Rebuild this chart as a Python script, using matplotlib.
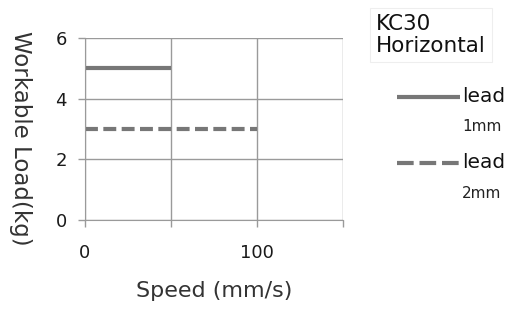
import matplotlib.pyplot as plt
from matplotlib.lines import Line2D

speed_1mm = [0, 50]
load_1mm = [5, 5]
speed_2mm = [0, 100]
load_2mm = [3, 3]
x_ticks = [0, 100]
y_ticks = [0, 2, 4, 6]

line_color = '#777777'
grid_color = '#9a9a9a'

fig = plt.figure(figsize=(5.18, 3.09), dpi=100)
ax = fig.add_axes([0.164, 0.288, 0.498, 0.589])

ax.plot(speed_1mm, load_1mm, color=line_color, lw=3, solid_capstyle='butt')
ax.plot(speed_2mm, load_2mm, color=line_color, lw=3, dashes=(3.1, 1.3), dash_capstyle='butt')

ax.set_xlim(0, 150)
ax.set_ylim(0, 6)
ax.set_xticks([0, 50, 100, 150])
ax.set_xticklabels(['0', '', '100', ''])
ax.set_yticks(y_ticks)
ax.grid(True, color=grid_color, lw=1)
for s in ['top', 'right']:
    ax.spines[s].set_visible(False)
for s in ['left', 'bottom']:
    ax.spines[s].set_color(grid_color)
ax.tick_params(colors=grid_color, length=5, width=1, labelcolor='#1a1a1a',
               labelsize=13)
ax.tick_params(axis='x', pad=12)
ax.tick_params(axis='y', pad=8)

ax.set_xlabel('Speed (mm/s)', fontsize=16, color='#333333', labelpad=14)
ax.set_ylabel('Workable Load(kg)', fontsize=16.5, color='#333333', rotation=270,
              va='center')
ax.yaxis.set_label_coords(-0.25, 0.45)

fig.text(0.726, 0.82, 'KC30\nHorizontal', fontsize=15.5, color='#111111',
         linespacing=1.1, va='bottom',
         bbox=dict(boxstyle='square,pad=0.3', fc='white', ec='#eeeeee', lw=0.8))

fig.add_artist(Line2D([0.766, 0.888], [0.687, 0.687], color=line_color, lw=3,
                      solid_capstyle='butt'))
fig.text(0.892, 0.687, 'lead', fontsize=14.5, color='#111111', va='center')
fig.text(0.892, 0.589, '1mm', fontsize=11, color='#222222', va='center')

fig.add_artist(Line2D([0.766, 0.888], [0.473, 0.473], color=line_color, lw=3,
                      dashes=(4, 1.4), dash_capstyle='butt'))
fig.text(0.892, 0.473, 'lead', fontsize=14.5, color='#111111', va='center')
fig.text(0.892, 0.375, '2mm', fontsize=11, color='#222222', va='center')

fig.savefig('out.png', dpi=100)
